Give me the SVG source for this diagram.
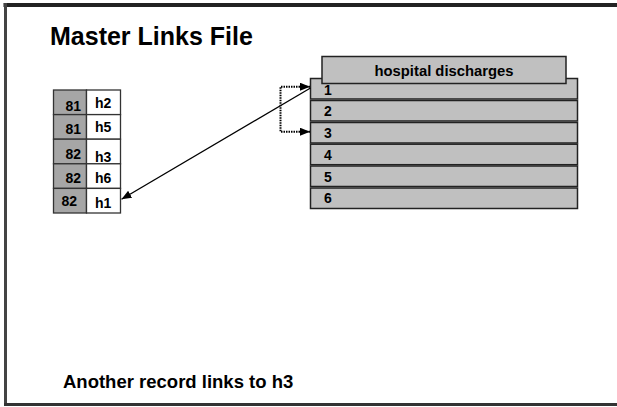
<svg xmlns="http://www.w3.org/2000/svg" width="617" height="407" viewBox="0 0 617 407">
<style>
text{font-family:"Liberation Sans",Arial,sans-serif;font-weight:bold;fill:#000}
.t{font-size:14px}
.key{fill:#a6a6a6;stroke:#333;stroke-width:1.3}
.val{fill:#fff;stroke:#333;stroke-width:1.3}
.row{fill:#c0c0c0;stroke:#222;stroke-width:1.5}
.conn{fill:none;stroke:#000;stroke-width:1.3}
.dot{fill:none;stroke:#000;stroke-width:2;stroke-dasharray:1.5 1}
</style>
<defs>
<marker id="ah" viewBox="0 0 10 8" refX="10" refY="4" markerWidth="10" markerHeight="8" markerUnits="userSpaceOnUse" orient="auto-start-reverse">
<path d="M0 0 L10 4 L0 8 Z" fill="#000"/>
</marker>
</defs>
<rect width="617" height="407" fill="#fff"/>
<g id="frame">
<line x1="3.5" y1="5" x2="617" y2="5" stroke="#222" stroke-width="4"/>
<line x1="5.5" y1="3" x2="5.5" y2="406" stroke="#444" stroke-width="3"/>
<line x1="4" y1="404.5" x2="617" y2="404.5" stroke="#333" stroke-width="3"/>
</g>
<text x="50" y="45" style="font-size:25px">Master Links File</text>
<g id="links-table">
<g id="row-h2"><rect class="key" x="53.5" y="90" width="33" height="24.6"/><rect class="val" x="86.5" y="90" width="34" height="24.6"/><text class="t" x="81" y="111" text-anchor="end">81</text><text class="t" x="95" y="108">h2</text></g>
<g id="row-h5"><rect class="key" x="53.5" y="114.6" width="33" height="24.6"/><rect class="val" x="86.5" y="114.6" width="34" height="24.6"/><text class="t" x="81" y="134.3" text-anchor="end">81</text><text class="t" x="95" y="131.7">h5</text></g>
<g id="row-h3"><rect class="key" x="53.5" y="139.2" width="33" height="24.6"/><rect class="val" x="86.5" y="139.2" width="34" height="24.6"/><text class="t" x="81" y="159.3" text-anchor="end">82</text><text class="t" x="95" y="161.7">h3</text></g>
<g id="row-h6"><rect class="key" x="53.5" y="163.8" width="33" height="24.6"/><rect class="val" x="86.5" y="163.8" width="34" height="24.6"/><text class="t" x="81" y="182.7" text-anchor="end">82</text><text class="t" x="95" y="183.3">h6</text></g>
<g id="row-h1"><rect class="key" x="53.5" y="188.4" width="33" height="24.6"/><rect class="val" x="86.5" y="188.4" width="34" height="24.6"/><text class="t" x="77" y="206" text-anchor="end">82</text><text class="t" x="95" y="208.3">h1</text></g>
</g>
<g id="discharges">
<g id="rec-1"><rect class="row" x="310.5" y="78.5" width="267" height="20.5"/><text class="t" x="324" y="95">1</text></g>
<g id="rec-2"><rect class="row" x="310.5" y="100.5" width="267" height="20.5"/><text class="t" x="324" y="115.5">2</text></g>
<g id="rec-3"><rect class="row" x="310.5" y="122.5" width="267" height="20.5"/><text class="t" x="324" y="138">3</text></g>
<g id="rec-4"><rect class="row" x="310.5" y="144.2" width="267" height="20.5"/><text class="t" x="324" y="160">4</text></g>
<g id="rec-5"><rect class="row" x="310.5" y="166" width="267" height="20.5"/><text class="t" x="324" y="181.7">5</text></g>
<g id="rec-6"><rect class="row" x="310.5" y="188" width="267" height="20.5"/><text class="t" x="324" y="203">6</text></g>
<g id="header"><rect class="row" x="322" y="56.5" width="244" height="27"/><text x="444" y="76" text-anchor="middle" style="font-size:14.8px">hospital discharges</text></g>
</g>
<g id="connectors">
<line class="conn" x1="310.5" y1="88" x2="121.5" y2="199.3" marker-end="url(#ah)"/>
<path class="dot" d="M310 86.7 H280.5 V131.7 H310" marker-start="url(#ah)" marker-end="url(#ah)"/>
</g>
<text x="63" y="388" style="font-size:18.5px">Another record links to h3</text>
</svg>
